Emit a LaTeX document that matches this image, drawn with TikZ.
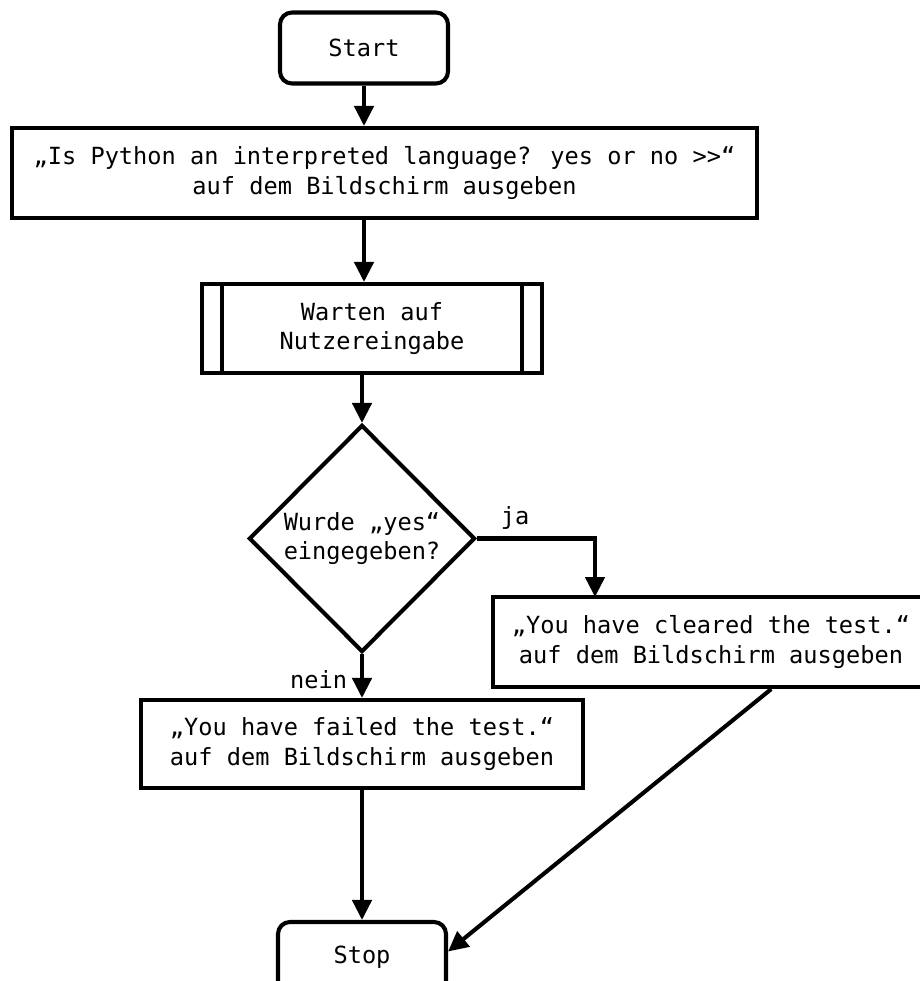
\documentclass[tikz,border=0pt]{standalone}
\usepackage{fontspec}
\setmainfont{DejaVu Sans Mono}
\usetikzlibrary{shapes.geometric}
\usetikzlibrary{positioning}
\usetikzlibrary{arrows.meta}

\begin{document}
\begin{tikzpicture}[x=0.025cm, y=-0.025cm,
    every node/.style={font=\fontsize{16.8}{21}\selectfont},
    shapebox/.style={draw, line width=2.9pt, inner sep=0pt, align=center},
    term/.style={shapebox, rectangle, rounded corners=0.3cm, minimum width=4.2cm, minimum height=1.775cm},
    proc/.style={shapebox, rectangle, minimum height=2.25cm},
    decision/.style={shapebox, diamond, minimum width=5.65cm, minimum height=5.675cm},
    flow/.style={-{Triangle[length=0.5cm,width=0.48cm]}, line width=2.9pt}]
    \useasboundingbox (0,0) rectangle (920,981);
    % Quiz process flow
    \node[term] (start) at (364,48) {Start};
    \node[proc, minimum width=18.625cm] (prompt) at (384.5,173) {„Is Python an interpreted language? yes or no >{}>“\\auf dem Bildschirm ausgeben};
    \node[proc, minimum width=8.5cm, minimum height=2.225cm] (wait) at (372,328.5) {Warten auf\\Nutzereingabe};
    \node[decision] (dec) at (362,538.5) {Wurde „yes“\\eingegeben?};
    \node[proc, minimum width=10.9cm] (cleared) at (711,642) {„You have cleared the test.“\\auf dem Bildschirm ausgeben};
    \node[proc, minimum width=11.025cm, minimum height=2.2cm] (failed) at (362,744) {„You have failed the test.“\\auf dem Bildschirm ausgeben};
    \node[term] (stop) at (362,957.5) {Stop};
    \node (ja) at (515,518) {ja};
    \node[anchor=east] (nein) at (352,680) {nein};
    \coordinate (jain) at (595,597);

    \draw[line width=2.9pt] ([xshift=0.55cm]wait.north west) -- ([xshift=0.55cm]wait.south west);
    \draw[line width=2.9pt] ([xshift=-0.55cm]wait.north east) -- ([xshift=-0.55cm]wait.south east);

    \draw[flow] (start) -- (start |- prompt.north);
    \draw[flow] (prompt.south -| start) -- (wait.north -| start);
    \draw[flow] (wait.south -| dec) -- (dec);
    \draw[flow] (dec.east) -| (jain);
    \draw[flow] (dec) -- (failed);
    \draw[flow] (failed) -- (stop);
    \draw[flow] (cleared.-38) -- (stop.4);
\end{tikzpicture}
\end{document}
